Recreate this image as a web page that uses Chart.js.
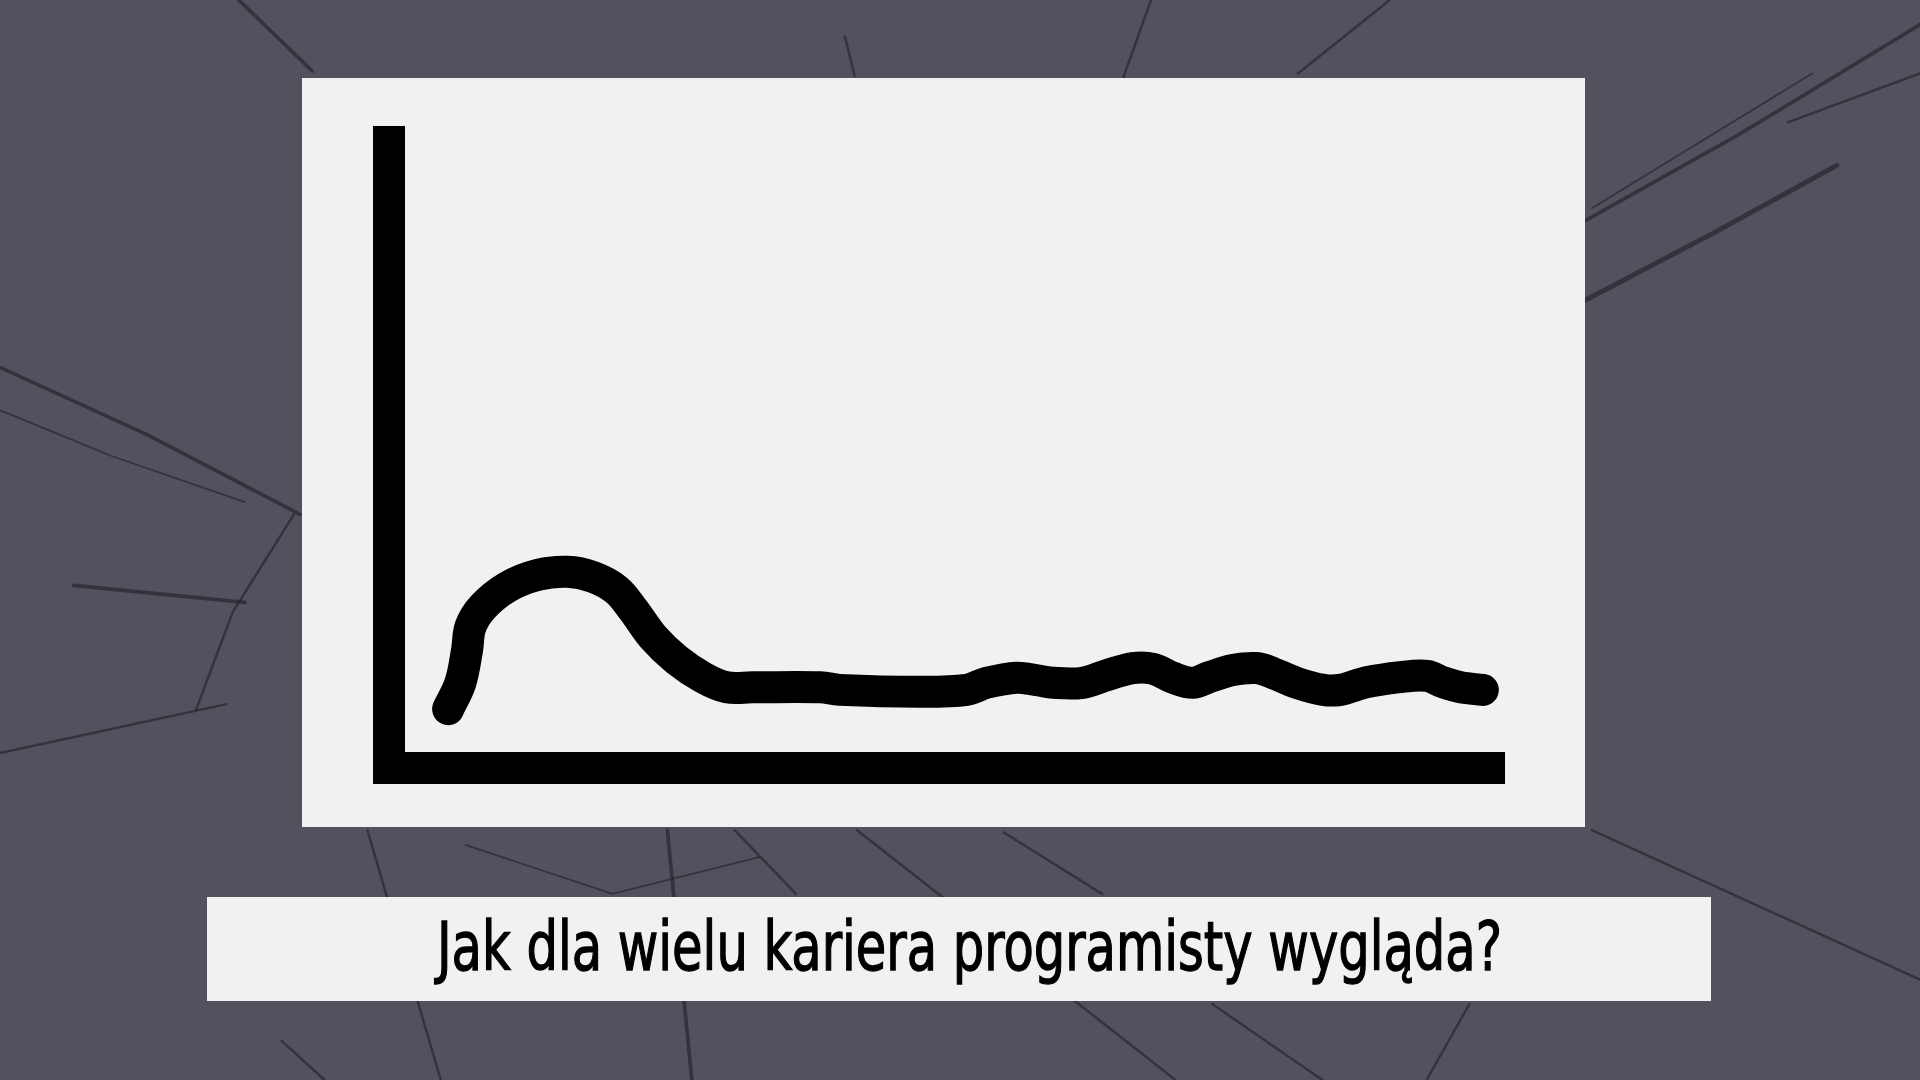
<!DOCTYPE html>
<html lang="pl">
<head>
<meta charset="utf-8">
<title>Kariera programisty</title>
<script src="https://cdn.jsdelivr.net/npm/chart.js@4/dist/chart.umd.min.js"></script>
<style>
  html, body { margin: 0; padding: 0; }
  body { width: 1920px; height: 1080px; background: #53515d; position: relative; overflow: hidden; }
  #pekniecia { position: absolute; left: 0; top: 0; width: 1920px; height: 1080px; }
  #tablica { position: absolute; left: 302px; top: 78px; width: 1283px; height: 749px; background: #f1f1f1; }
  #podpis { position: absolute; left: 207px; top: 897px; width: 1504px; height: 104px; background: #f1f1f1; }
  #tekst { position: absolute; left: 437px; top: 913px; font-family: "Liberation Sans Narrow", "DejaVu Sans Condensed", sans-serif;
           font-stretch: condensed; font-size: 68px; line-height: 1; color: #000; white-space: nowrap; transform-origin: 0 0;
           -webkit-text-stroke: 1.3px #000; }
</style>
</head>
<body>
<!-- tlo: popekana szyba, tylko dekoracja -->
<svg id="pekniecia" viewBox="0 0 1568 882" preserveAspectRatio="none">
  <g stroke="#1c1b22" stroke-opacity="0.55" fill="none" stroke-linecap="round">
    <path d="M195 0 L255 58" stroke-width="3"/>
    <path d="M0 300 L120 355 L245 420" stroke-width="3"/>
    <path d="M0 335 L90 372 L200 410" stroke-width="1.5"/>
    <path d="M60 478 L200 492" stroke-width="3"/>
    <path d="M0 615 L185 575" stroke-width="2"/>
    <path d="M160 580 L190 500 L240 420" stroke-width="2"/>
    <path d="M1295 180 L1420 110 L1568 20" stroke-width="3"/>
    <path d="M1295 245 L1400 190 L1500 135" stroke-width="4"/>
    <path d="M1300 170 L1480 60" stroke-width="1.5"/>
    <path d="M1460 100 L1568 60" stroke-width="2"/>
    <path d="M940 0 L915 70" stroke-width="2"/>
    <path d="M1060 60 L1135 0" stroke-width="2"/>
    <path d="M690 30 L698 62" stroke-width="2"/>
    <path d="M300 678 L360 882" stroke-width="2"/>
    <path d="M545 678 L565 882" stroke-width="3"/>
    <path d="M600 678 L650 730" stroke-width="2"/>
    <path d="M700 678 L960 882" stroke-width="2"/>
    <path d="M1300 678 L1568 800" stroke-width="2"/>
    <path d="M990 820 L1080 882" stroke-width="2"/>
    <path d="M230 850 L265 882" stroke-width="2"/>
    <path d="M1200 820 L1165 882" stroke-width="2"/>
    <path d="M380 690 L500 730 L620 700" stroke-width="1.5"/>
    <path d="M820 680 L900 730" stroke-width="2"/>
  </g>
</svg>

<div id="tablica"><canvas id="wykres" width="1283" height="749"></canvas></div>
<div id="podpis"></div>
<div id="tekst">Jak dla wielu kariera programisty wygląda?</div>

<script>
// punkty krzywej (os x 0-100, os y 0-97.5)
var czas = [5.3, 6.4, 7.0, 7.3, 8.4, 10.6, 13.3, 16.0, 18.3, 20.4, 21.9, 23.7, 25.8, 28.2, 30.3, 32.6, 38.7, 40.4, 47.6, 51.8,
            53.6, 56.3, 58.1, 59.6, 62.2, 64.4, 66.7, 68.5, 70.3, 72.1, 73.6, 75.7, 77.8, 79.3, 81.4, 83.8, 85.3, 87.7, 90.7, 93.1,
            94.5, 96.1, 98.1];
var kariera = [9.1, 13.2, 18.3, 21.9, 25.0, 28.1, 30.0, 30.5, 29.7, 27.7, 24.6, 20.3, 16.8, 14.0, 12.5, 12.5, 12.5, 12.1, 11.8, 12.1,
               13.2, 14.0, 13.6, 13.2, 13.2, 14.4, 15.5, 15.4, 14.0, 13.2, 14.1, 15.2, 15.5, 14.7, 13.2, 12.1, 12.1, 13.3, 14.1, 14.3,
               13.3, 12.5, 12.1];
var zakresX = [0, 100];
var zakresY = [0, 97.5];

var punkty = [];
for (let i = 0; i < czas.length; i++) {
  punkty.push({x: czas[i], y: kariera[i]});
}

new Chart(document.getElementById("wykres"), {
  type: 'line',
  data: {
    datasets: [{
      label: 'Kariera',
      data: punkty,
      borderColor: '#000',
      borderWidth: 32,
      borderCapStyle: 'round',
      borderJoinStyle: 'round',
      tension: 0.35,
      pointRadius: 0,
      fill: false
    }]
  },
  options: {
    responsive: false,
    animation: false,
    layout: { padding: { left: 87, right: 81, top: 64, bottom: 59.5 } },
    plugins: { legend: { display: false }, tooltip: { enabled: false } },
    scales: {
      x: {
        type: 'linear', min: zakresX[0], max: zakresX[1],
        ticks: { display: false },
        grid: { display: false, drawTicks: false },
        border: { display: true, color: '#000', width: 32 }
      },
      y: {
        min: zakresY[0], max: zakresY[1],
        ticks: { display: false },
        grid: { display: false, drawTicks: false },
        border: { display: true, color: '#000', width: 32 }
      }
    }
  }
});

// dopasowanie szerokosci podpisu
var tekst = document.getElementById("tekst");
var szer = tekst.getBoundingClientRect().width;
tekst.style.transform = 'scaleX(' + (1065 / szer) + ')';
</script>
</body>
</html>
